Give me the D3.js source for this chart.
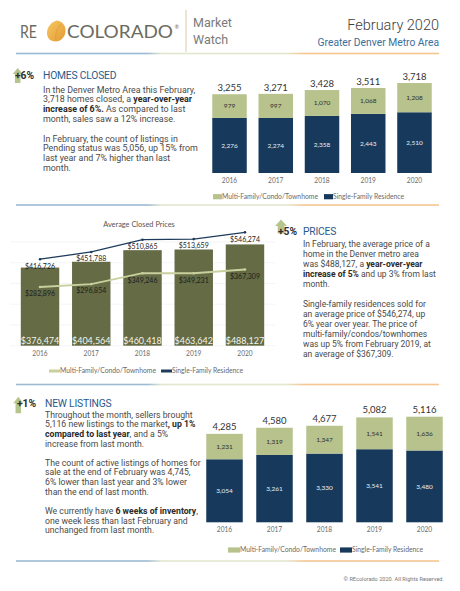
<!DOCTYPE html>
<html><head><meta charset="utf-8">
<script src="https://cdn.jsdelivr.net/npm/d3@7"></script>
<style>
html,body{margin:0;padding:0;background:#fff;}
svg{display:block;}
</style></head>
<body>
<script>
// ---------- DATA ----------
const years = ["2016","2017","2018","2019","2020"];
const closedMulti  = [979, 997, 1070, 1068, 1208];
const closedSingle = [2276, 2274, 2358, 2443, 2510];
const priceAll    = [376474, 404564, 460418, 463642, 488127];
const priceSingle = [416726, 451788, 510865, 513659, 546274];
const priceMulti  = [282896, 296854, 349246, 349231, 367309];
const listMulti  = [1231, 1319, 1347, 1541, 1636];
const listSingle = [3054, 3261, 3330, 3541, 3480];
const legendLabels = ["Multi-Family/Condo/Townhome", "Single-Family Residence"];

const sec1Lines = [
  [["In the Denver Metro Area this February,"]],
  [["3,718 homes closed, a "],["year-over-year",1]],
  [["increase of 6%.",1],[" As compared to last"]],
  [["month, sales saw a 12% increase."]],
  null,
  [["In February, the count of listings in"]],
  [["Pending status was 5,056, up 15% from"]],
  [["last year and 7% higher than last"]],
  [["month."]]
];
const sec2Lines = [
  [["In February, the average price of a"]],
  [["home in the Denver metro area"]],
  [["was $488,127, a "],["year-over-year",1]],
  [["increase of 5%",1],[" and up 3% from last"]],
  [["month."]],
  null,
  [["Single-family residences sold for"]],
  [["an average price of $546,274, up"]],
  [["6% year over year. The price of"]],
  [["multi-family/condos/townhomes"]],
  [["was up 5% from February 2019, at"]],
  [["an average of $367,309."]]
];
const sec3Lines = [
  [["Throughout the month, sellers brought"]],
  [["5,116 new listings to the market"],[", up 1%",1]],
  [["compared to last year",1],[", and a 5%"]],
  [["increase from last month."]],
  null,
  [["The count of active listings of homes for"]],
  [["sale at the end of February was 4,745,"]],
  [["6% lower than last year and 3% lower"]],
  [["than the end of last month."]],
  null,
  [["We currently have "],["6 weeks of inventory",1],[","]],
  [["one week less than last February and"]],
  [["unchanged from last month."]]
];

// ---------- STYLE ----------
const C = {
  green: "#b7c28c", navy: "#173a5c", olive: "#646b45", lineGreen: "#c9d09d",
  lineNavy: "#1f3b5b", head: "#2b5a8b", body: "#4a4a4a", axis: "#6a6a6a",
  blueRule: "#9bbad4", greenRule: "#e2e8cd", orangeRule: "#f5c690"
};
const BODY = "Roboto, 'Open Sans', sans-serif";
const CHART = "Lato, 'Open Sans', sans-serif";

const svg = d3.select("body").append("svg").attr("width",460).attr("height",591);
svg.append("rect").attr("width",460).attr("height",591).attr("fill","#fff");
const defs = svg.append("defs");
const grad = defs.append("linearGradient").attr("id","rule").attr("x1","0").attr("x2","1");
[[0,C.blueRule],[0.31,C.blueRule],[0.345,C.greenRule],[0.64,C.greenRule],[0.68,C.orangeRule],[1,C.orangeRule]]
  .forEach(([o,c])=>grad.append("stop").attr("offset",o).attr("stop-color",c));
const leafG = defs.append("linearGradient").attr("id","leaf").attr("x1","0").attr("y1","0").attr("x2","1").attr("y2","1");
leafG.append("stop").attr("offset",0).attr("stop-color","#f6c865");
leafG.append("stop").attr("offset",1).attr("stop-color","#e39a32");

function rule(y){ svg.append("rect").attr("x",16).attr("y",y-0.8).attr("width",423).attr("height",1.6).attr("fill","url(#rule)"); }

// ---------- HEADER ----------
svg.append("text").attr("x",20).attr("y",38.3).attr("font-family",CHART).attr("font-size",16.3)
  .attr("fill","#6b6b60").attr("textLength",17).attr("lengthAdjust","spacingAndGlyphs").text("RE");
svg.append("path")
  .attr("d","M57,20.5 C62.5,21 66,26 65.5,31.5 C65,37 61,41.5 55.5,41.5 C50,41.5 46.5,37.5 47,32 C47.5,27 51,22 57,20.5 Z")
  .attr("fill","url(#leaf)");
svg.append("path").attr("d","M56,40 C55,34 57,28 61,24").attr("stroke","#d48a24").attr("stroke-width",0.7).attr("fill","none").attr("opacity",0.6);
svg.append("text").attr("x",67).attr("y",38.3).attr("font-family",CHART).attr("font-size",16.3)
  .attr("fill","#6b6b60").attr("textLength",106).attr("lengthAdjust","spacingAndGlyphs").text("COLORADO");
svg.append("text").attr("x",174.5).attr("y",29).attr("font-family",CHART).attr("font-size",5.5).attr("fill","#6b6b60").text("®");
svg.append("line").attr("x1",186).attr("x2",186).attr("y1",10).attr("y2",52).attr("stroke","#dcc8a6").attr("stroke-width",1);
svg.append("text").attr("x",193).attr("y",27.3).attr("font-family",BODY).attr("font-size",12.5).attr("fill","#7a7a7a").text("Market");
svg.append("text").attr("x",193).attr("y",44).attr("font-family",BODY).attr("font-size",12.5).attr("fill","#7a7a7a").text("Watch");
svg.append("text").attr("x",439).attr("y",29.5).attr("text-anchor","end").attr("font-family",BODY).attr("font-weight",300)
  .attr("font-size",14.5).attr("fill","#404040").text("February 2020");
svg.append("text").attr("x",439).attr("y",46).attr("text-anchor","end").attr("font-family",BODY).attr("font-size",10.3).attr("fill","#3a6f9b").text("Greater Denver Metro Area");
rule(53.5);
rule(205);
rule(384.5);
rule(561);

// ---------- SECTION HEADINGS / TEXT ----------
function arrow(x, yTop, w, h, headH){
  const cx = x + w/2, sw = w*0.55;
  svg.append("path").attr("d",
    `M${cx},${yTop} L${x+w},${yTop+headH} L${cx+sw/2},${yTop+headH} L${cx+sw/2},${yTop+h} L${cx-sw/2},${yTop+h} L${cx-sw/2},${yTop+headH} L${x},${yTop+headH} Z`)
    .attr("fill","#aebf82").attr("opacity",0.9);
}
function heading(arrowBox, pctX, label, labelX, cy, fs){
  arrow(...arrowBox);
  svg.append("text").attr("x",pctX).attr("y",cy+3.6).attr("font-family",BODY).attr("font-weight","bold")
    .attr("font-size",fs).attr("fill","#2e2e2e").text(label[0]);
  svg.append("text").attr("x",labelX).attr("y",cy+3.6).attr("font-family",BODY)
    .attr("font-size",fs).attr("fill",C.head).attr("letter-spacing",-0.2).text(label[1]);
}
function para(lines, x, y0, dy, fs){
  lines.forEach((ln,i)=>{
    if(!ln) return;
    const t = svg.append("text").attr("x",x).attr("y",y0+i*dy+fs*0.34)
      .attr("font-family",BODY).attr("font-size",fs).attr("fill",C.body);
    ln.forEach(seg=>t.append("tspan").attr("font-weight",seg[1]?"bold":"normal")
      .attr("fill",seg[1]?"#2a2a2a":C.body).text(seg[0]));
  });
}
heading([12.7,68,10,15,6], 15, ["+6%","HOMES CLOSED"], 43, 75.8, 10.3);
para(sec1Lines, 43, 89.5, 9.8, 8.9);
heading([275,219.5,12,14,6.5], 278, ["+5%","PRICES"], 303, 231.6, 10.3);
para(sec2Lines, 303, 244.3, 9.95, 8.5);
heading([13.3,396.7,10,16.5,6.5], 17, ["+1%","NEW LISTINGS"], 45, 403, 10.3);
para(sec3Lines, 45, 414.6, 9.65, 8.7);

// ---------- STACKED BAR CHART ----------
function stacked(cfg){
  const g = svg.append("g");
  const x = d3.scaleBand().domain(years).range(cfg.xr).paddingInner(cfg.pi).paddingOuter(cfg.pi/2);
  const y = d3.scaleLinear().domain(cfg.yd).range(cfg.yr);
  const rows = years.map((yr,i)=>({yr, s:cfg.single[i], m:cfg.multi[i], t:cfg.single[i]+cfg.multi[i]}));
  const fmt = d3.format(",");
  g.selectAll(".s").data(rows).join("rect").attr("x",d=>x(d.yr)).attr("width",x.bandwidth())
    .attr("y",d=>y(d.s)).attr("height",d=>y(0)-y(d.s)).attr("fill",C.navy);
  g.selectAll(".m").data(rows).join("rect").attr("x",d=>x(d.yr)).attr("width",x.bandwidth())
    .attr("y",d=>y(d.t)).attr("height",d=>y(d.s)-y(d.t)).attr("fill",C.green);
  const cx = d=>x(d.yr)+x.bandwidth()/2;
  g.selectAll(".lt").data(rows).join("text").attr("x",cx).attr("y",d=>y(d.t)-cfg.totOff+3.2)
    .attr("text-anchor","middle").attr("font-family",CHART).attr("font-size",9.5).attr("fill","#333").text(d=>fmt(d.t));
  g.selectAll(".lm").data(rows).join("text").attr("x",cx).attr("y",d=>(y(d.t)+y(d.s))/2+2.2)
    .attr("text-anchor","middle").attr("font-family",CHART).attr("font-size",6.5).attr("fill","#2f2f2f").text(d=>fmt(d.m));
  g.selectAll(".ls").data(rows).join("text").attr("x",cx).attr("y",d=>(y(d.s)+y(0))/2+2.2)
    .attr("text-anchor","middle").attr("font-family",CHART).attr("font-size",6.5).attr("fill","#e8edf2").text(d=>fmt(d.s));
  const ax = g.append("g").attr("transform",`translate(0,${cfg.yr[0]})`)
    .call(d3.axisBottom(x).tickSize(0).tickPadding(0));
  ax.select(".domain").remove();
  ax.selectAll("text").attr("dy",0).attr("y",cfg.yearY-cfg.yr[0]+2.3).attr("font-family",CHART).attr("font-size",6.6).attr("fill",C.axis);
  const L = cfg.leg;
  [[C.green,legendLabels[0],L[0]],[C.navy,legendLabels[1],L[1]]].forEach(([c,t,lx])=>{
    g.append("rect").attr("x",lx).attr("y",L[2]-2.6).attr("width",L[3]).attr("height",5.2).attr("fill",c);
    g.append("text").attr("x",lx+L[3]).attr("y",L[2]+2.3).attr("font-family",CHART).attr("font-size",6.8)
      .attr("fill",C.axis).text(t);
  });
}
stacked({xr:[206.4,437.6], pi:0.254, yd:[0,4000], yr:[173,76.2], single:closedSingle, multi:closedMulti,
  totOff:6, yearY:180.7, leg:[213,324,196.7,9]});
stacked({xr:[199.5,449.5], pi:0.27, yd:[0,5000], yr:[522.3,419.1], single:listSingle, multi:listMulti,
  totOff:7.2, yearY:529.3, leg:[228,340,550,12]});

// ---------- PRICE CHART ----------
(function(){
  const g = svg.append("g");
  const x = d3.scaleBand().domain(years).range([14.4,270.6]).paddingInner(0.25).paddingOuter(0.125);
  const y = d3.scaleLinear().domain([0,500000]).range([345.7,241.95]);
  const fmt = v=>"$"+d3.format(",")(v);
  const cx = yr=>x(yr)+x.bandwidth()/2;
  g.selectAll(".gl").data(y.ticks(5)).join("line").attr("x1",10).attr("x2",275)
    .attr("y1",d=>y(d)).attr("y2",d=>y(d)).attr("stroke","#efefef").attr("stroke-width",0.6);
  g.append("text").attr("x",139).attr("y",226.6).attr("text-anchor","middle").attr("font-family",CHART)
    .attr("font-size",7.4).attr("fill","#555").text("Average Closed Prices");
  g.selectAll(".b").data(years).join("rect").attr("x",d=>x(d)).attr("width",x.bandwidth())
    .attr("y",(d,i)=>y(priceAll[i])).attr("height",(d,i)=>y(0)-y(priceAll[i])).attr("fill",C.olive);
  g.selectAll(".bl").data(years).join("text").attr("x",cx).attr("y",343.9).attr("text-anchor","middle")
    .attr("font-family",CHART).attr("font-size",9).attr("fill","#f3f3ea").text((d,i)=>fmt(priceAll[i]));
  const line = d3.line().x((d,i)=>cx(years[i])).y(d=>y(d));
  g.append("path").attr("d",line(priceMulti)).attr("fill","none").attr("stroke",C.lineGreen).attr("stroke-width",1.8);
  g.append("path").attr("d",line(priceSingle)).attr("fill","none").attr("stroke",C.lineNavy).attr("stroke-width",1.3);
  [[priceMulti,C.lineGreen],[priceSingle,C.lineNavy]].forEach(([arr,c])=>{
    g.selectAll(null).data(arr).join("circle").attr("cx",(d,i)=>cx(years[i])).attr("cy",d=>y(d)).attr("r",1.3).attr("fill",c);
    g.selectAll(null).data(arr).join("text").attr("x",(d,i)=>cx(years[i])).attr("y",d=>y(d)+9.3)
      .attr("text-anchor","middle").attr("font-family",CHART).attr("font-size",7).attr("fill","#1e1e1e").text(d=>fmt(d));
  });
  const ax = g.append("g").attr("transform",`translate(0,345.7)`).call(d3.axisBottom(x).tickSize(0).tickPadding(0));
  ax.select(".domain").remove();
  ax.selectAll("text").attr("dy",0).attr("y",354-345.7+2.3).attr("font-family",CHART).attr("font-size",6.6).attr("fill",C.axis);
  [[C.lineGreen,legendLabels[0],49],[C.lineNavy,legendLabels[1],161]].forEach(([c,t,lx])=>{
    g.append("rect").attr("x",lx).attr("y",369.5).attr("width",11).attr("height",3).attr("fill",c);
    g.append("text").attr("x",lx+11).attr("y",373.3).attr("font-family",CHART).attr("font-size",6.8).attr("fill",C.axis).text(t);
  });
})();

// ---------- FOOTER ----------
svg.append("text").attr("x",444).attr("y",581).attr("text-anchor","end").attr("font-family",BODY)
  .attr("font-size",5.6).attr("fill","#777").text("© REcolorado 2020. All Rights Reserved.");
</script>
</body></html>
